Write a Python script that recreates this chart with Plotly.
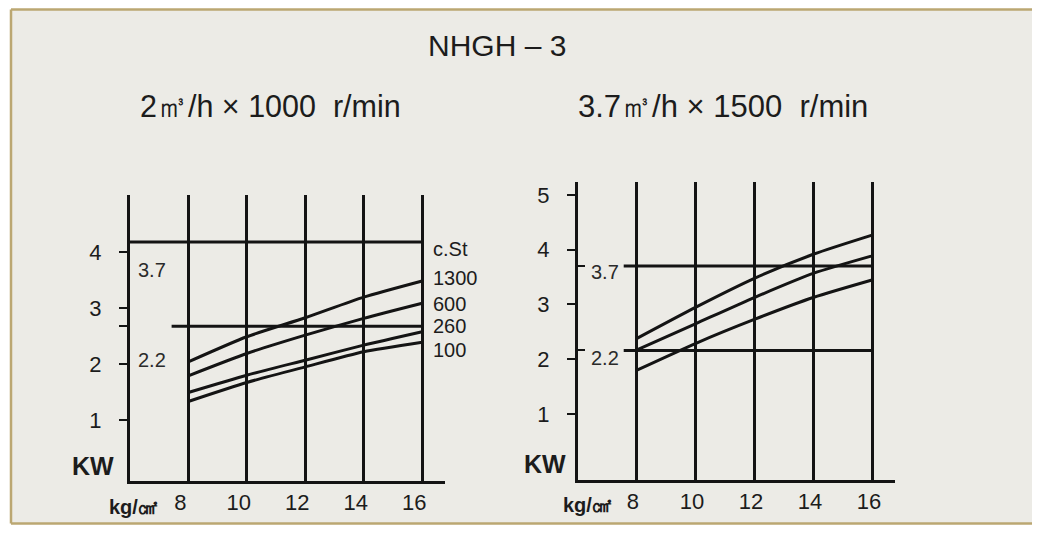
import plotly.graph_objects as go

# ---------------- data ----------------
pressure = [8, 10, 12, 14, 16]                 # kg/cm2
pressure_ticks = [8, 10, 12, 14, 16]

# left chart: 2 m3/h x 1000 r/min, power (KW) for several viscosities (c.St)
left_viscosity = ["1300", "600", "260", "100"]
left_kw_1300 = [2.04, 2.49, 2.83, 3.20, 3.49]
left_kw_600 = [1.79, 2.19, 2.52, 2.82, 3.09]
left_kw_260 = [1.49, 1.80, 2.07, 2.34, 2.58]
left_kw_100 = [1.33, 1.67, 1.95, 2.22, 2.39]
left_limit_kw = [4.19, 2.68]          # motor lines
left_limit_from = [6.0, 7.43]
left_limit_to = [16.0, 16.0]
left_limit_labels = ["3.7", "2.2"]
left_kw_ticks = [1, 2, 3, 4]

# right chart: 3.7 m3/h x 1500 r/min
right_kw_a = [2.38, 2.95, 3.48, 3.92, 4.27]
right_kw_b = [2.17, 2.65, 3.13, 3.57, 3.89]
right_kw_c = [1.80, 2.29, 2.73, 3.13, 3.45]
right_limit_kw = [3.70, 2.16]
right_limit_from = [7.55, 7.55]
right_limit_to = [16.0, 16.0]
right_limit_labels = ["3.7", "2.2"]
right_kw_ticks = [1, 2, 3, 4, 5]

title_text = "NHGH \u2013 3"
left_subtitle = "2\u33a5/h \u00d7 1000 \u00a0r/min"
right_subtitle = "3.7\u33a5/h \u00d7 1500 \u00a0r/min"

# ---------------- helpers ----------------
PAGE_OFF = 8            # default body margin of the html page
W, H = 1040 - 2 * PAGE_OFF, 533 - 2 * PAGE_OFF
INK = "#141414"
TXT = "#1c1c1c"
BG = "#ecebe6"
FRAME = "#bba772"
FONT = "Liberation Sans, Arial, sans-serif"


def fx(p):
    return (p - PAGE_OFF) / W


def fy(p):
    return 1 - (p - PAGE_OFF) / H


fig = go.Figure()

left_series = [left_kw_1300, left_kw_600, left_kw_260, left_kw_100]
for name, ys in zip(left_viscosity, left_series):
    fig.add_trace(go.Scatter(x=pressure, y=ys, mode="lines", name=name,
                             line=dict(color=INK, width=3, shape="spline", smoothing=0.6),
                             xaxis="x", yaxis="y", hoverinfo="skip"))
for kw, x0, x1 in zip(left_limit_kw, left_limit_from, left_limit_to):
    fig.add_trace(go.Scatter(x=[x0, x1], y=[kw, kw], mode="lines",
                             line=dict(color=INK, width=3), xaxis="x", yaxis="y",
                             hoverinfo="skip"))

for ys in [right_kw_a, right_kw_b, right_kw_c]:
    fig.add_trace(go.Scatter(x=pressure, y=ys, mode="lines",
                             line=dict(color=INK, width=3, shape="spline", smoothing=0.6),
                             xaxis="x2", yaxis="y2", hoverinfo="skip"))
for kw, x0, x1 in zip(right_limit_kw, right_limit_from, right_limit_to):
    fig.add_trace(go.Scatter(x=[x0, x1], y=[kw, kw], mode="lines",
                             line=dict(color=INK, width=3), xaxis="x2", yaxis="y2",
                             hoverinfo="skip"))

xcommon = dict(showline=True, linecolor=INK, linewidth=3, zeroline=False,
               showgrid=True, gridcolor=INK, gridwidth=3, tickvals=pressure_ticks,
               ticks="", tickfont=dict(family=FONT, size=22, color=TXT),
               fixedrange=True)
ycommon = dict(showline=True, linecolor=INK, linewidth=3, zeroline=False,
               showgrid=False, ticks="outside", ticklen=8, tickwidth=2,
               tickcolor=INK, tickfont=dict(family=FONT, size=22, color=TXT),
               ticklabelstandoff=13, fixedrange=True)

fig.update_layout(
    width=W, height=H, margin=dict(l=0, r=0, t=0, b=0),
    paper_bgcolor="white", plot_bgcolor="rgba(0,0,0,0)", showlegend=False,
    xaxis=dict(xcommon, domain=[fx(129.8), fx(445)], range=[6, 16.78],
               anchor="y", ticklabelshift=-8, ticklabelstandoff=0),
    yaxis=dict(ycommon, domain=[fy(481), fy(195)], range=[-0.095, 5.03],
               anchor="x", tickvals=left_kw_ticks + [left_limit_kw[1]],
               ticktext=[str(v) for v in left_kw_ticks] + [""]),
    xaxis2=dict(xcommon, domain=[fx(578), fx(895)], range=[6, 16.75],
                anchor="y2", ticklabelshift=-4, ticklabelstandoff=0),
    yaxis2=dict(ycommon, domain=[fy(480), fy(182)], range=[-0.207, 5.235],
                anchor="x2", tickvals=right_kw_ticks,
                ticktext=[str(v) for v in right_kw_ticks],
                minor=dict(tickvals=right_limit_kw, ticks="inside", ticklen=7,
                           tickwidth=2, tickcolor=INK, showgrid=False)),
)

# page background / frame (top, left and bottom edges only)
fig.add_shape(type="rect", xref="paper", yref="paper",
              x0=fx(11), x1=1.0, y0=fy(523.5), y1=fy(9.5),
              fillcolor=BG, line=dict(width=0), layer="below")
for (xa, ya, xb, yb) in [(11, 9.5, 1032, 9.5), (11, 9.5, 11, 523.5),
                         (11, 523.5, 1032, 523.5)]:
    fig.add_shape(type="line", xref="paper", yref="paper",
                  x0=fx(xa), y0=fy(ya), x1=fx(xb), y1=fy(yb),
                  line=dict(color=FRAME, width=2.5), layer="below")


def pann(text, px, py, size, **kw):
    return dict(text=text, x=fx(px), y=fy(py), xref="paper", yref="paper",
                xanchor=kw.pop("xanchor", "center"), yanchor="middle",
                showarrow=False, font=dict(family=FONT, size=size, color=TXT), **kw)


ann = []
ann.append(pann(title_text, 497, 45, 30))
ann.append(pann(left_subtitle, 270, 106, 30.5))
ann.append(pann(right_subtitle, 723, 106, 31))
# axis unit labels
for (kx, ky, ux, uy) in [(93, 466, 133, 507), (545, 464, 587, 505)]:
    ann.append(pann("<b>KW</b>", kx, ky, 25))
    ann.append(pann("<b>kg/\u33a0</b>", ux, uy, 20))
# motor labels
for lbl, yy in zip(left_limit_labels, [3.69, 2.08]):
    ann.append(dict(text=lbl, x=6.75, y=yy, xref="x", yref="y", showarrow=False,
                    xanchor="center", yanchor="middle",
                    font=dict(family=FONT, size=20, color="#2a2a2a")))
for lbl, yy in zip(right_limit_labels, [3.59, 2.03]):
    ann.append(dict(text=lbl, x=6.92, y=yy, xref="x2", yref="y2", showarrow=False,
                    xanchor="center", yanchor="middle",
                    font=dict(family=FONT, size=20, color="#2a2a2a")))
# viscosity labels
visc_label_y = [3.55, 3.08, 2.68, 2.26]
ann.append(dict(text="c.St", x=16.3, y=4.06, xref="x", yref="y", xanchor="left",
                yanchor="middle", showarrow=False,
                font=dict(family=FONT, size=20, color=TXT)))
for lbl, yy in zip(left_viscosity, visc_label_y):
    ann.append(dict(text=lbl, x=16.3, y=yy, xref="x", yref="y", xanchor="left",
                    yanchor="middle", showarrow=False,
                    font=dict(family=FONT, size=20, color=TXT)))
fig.update_layout(annotations=ann)

fig.write_html("out.html")
